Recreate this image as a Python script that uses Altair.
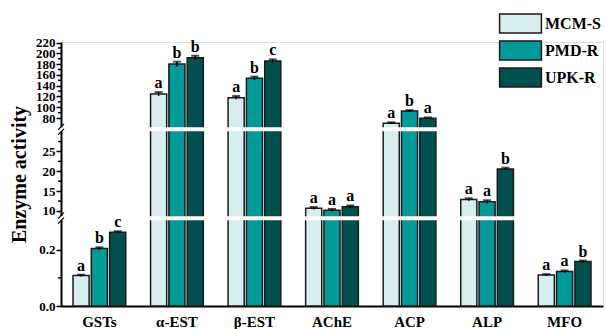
import altair as alt
import pandas as pd

# ---- data -------------------------------------------------------------
enzymes = ["GSTs", "α-EST", "β-EST", "AChE", "ACP", "ALP", "MFO"]
strains = ["MCM-S", "PMD-R", "UPK-R"]
colors = ["#d6eeee", "#009b98", "#00504e"]

mcm_s = [0.108, 124.5, 117.7, 10.7, 70.5, 12.9, 0.110]
pmd_r = [0.204, 180.0, 153.7, 10.2, 93.0, 12.3, 0.122]
upk_r = [0.262, 192.0, 185.7, 11.1, 79.5, 20.6, 0.158]

mcm_s_err = [0.003, 3.5, 3.0, 0.3, 1.5, 0.3, 0.003]
pmd_r_err = [0.004, 4.5, 3.0, 0.3, 1.5, 0.4, 0.004]
upk_r_err = [0.003, 3.5, 3.0, 0.3, 1.5, 0.3, 0.003]

mcm_s_sig = ["a", "a", "a", "a", "a", "a", "a"]
pmd_r_sig = ["b", "b", "b", "a", "b", "a", "a"]
upk_r_sig = ["c", "b", "c", "a", "a", "b", "b"]

major_ticks = [0, 0.2, 10, 15, 20, 25, 80, 100, 120, 140, 160, 180, 200, 220]
minor_ticks = [0.1, 12.5, 17.5, 22.5, 27.5, 90, 110, 130, 150, 170, 190, 210]

# broken y axis: three linear segments joined by narrow gaps
W, H = 542, 264
Y_DOMAIN = [0, 0.304, 8.74, 30.1, 62.4, 221]
Y_RANGE = [H, 178.3, 174.0, 89.2, 85.5, 0]
break_px = [(Y_RANGE[1] + Y_RANGE[2]) / 2, (Y_RANGE[3] + Y_RANGE[4]) / 2]

FONT = "Liberation Serif"

rows = []
for vals, errs, sigs, s in [(mcm_s, mcm_s_err, mcm_s_sig, strains[0]),
                            (pmd_r, pmd_r_err, pmd_r_sig, strains[1]),
                            (upk_r, upk_r_err, upk_r_sig, strains[2])]:
    for e, v, err, sig in zip(enzymes, vals, errs, sigs):
        rows.append({"enzyme": e, "strain": s, "value": v,
                     "lo": v - err, "hi": v + err, "sig": sig})
df = pd.DataFrame(rows)

yscale = alt.Scale(domain=Y_DOMAIN, range=Y_RANGE, nice=False, zero=False)
yaxis = alt.Axis(values=major_ticks,
                 labelExpr="datum.value < 1 ? format(datum.value, '.1f') : format(datum.value, 'd')",
                 labelOverlap=False, labelFlush=False, grid=False,
                 tickSize=5, tickWidth=1.5, tickColor="black",
                 domainWidth=2, domainColor="black",
                 labelFont=FONT, labelFontSize=13, labelFontWeight="bold",
                 labelColor="black", labelPadding=1,
                 title="Enzyme activity", titleFont=FONT, titleFontSize=20,
                 titleFontWeight="bold", titleColor="black",
                 titleAngle=270, titleX=-42, titleY=H / 2,
                 titleAlign="center", titleBaseline="middle")
xscale = alt.Scale(paddingInner=0.32, paddingOuter=0.155)
xaxis = alt.Axis(title=None, labelAngle=0, ticks=False, domainWidth=2,
                 domainColor="black", labelFont=FONT, labelFontSize=15,
                 labelFontWeight="bold", labelColor="black", labelPadding=8)
xenc = alt.X("enzyme:N", sort=enzymes, scale=xscale, axis=xaxis)
xoff = alt.XOffset("strain:N", sort=strains, scale=alt.Scale(paddingInner=0.12))


def yq(field):
    return alt.Y(field, type="quantitative", scale=yscale, axis=yaxis)


base = alt.Chart(df)

bars = base.mark_bar(stroke="#1a1a1a", strokeWidth=1.5).encode(
    x=xenc,
    xOffset=xoff,
    y=yq("value"),
    color=alt.Color("strain:N", sort=strains,
                    scale=alt.Scale(domain=strains, range=colors),
                    legend=alt.Legend(title=None, orient="none",
                                      legendX=449, legendY=-29, padding=0,
                                      symbolType="M-2.2,-1H2.2V1H-2.2Z",
                                      symbolSize=361, symbolStrokeColor="#1a1a1a",
                                      symbolStrokeWidth=1.5, symbolOpacity=1,
                                      labelFont=FONT, labelFontSize=16,
                                      labelFontWeight="bold", labelColor="black",
                                      labelOffset=14, rowPadding=2)),
)

whisk = base.mark_rule(color="black", strokeWidth=1.5).encode(
    x=xenc, xOffset=xoff, y=yq("lo"), y2="hi:Q")

caps = base.mark_tick(color="black", thickness=2, size=8).encode(
    x=xenc, xOffset=xoff, y=yq("hi"))

letters = base.mark_text(font=FONT, fontSize=16, fontWeight="bold", color="black",
                         baseline="alphabetic", dy=-4).encode(
    x=xenc, xOffset=xoff, y=yq("hi"), text="sig:N")

# short unlabeled ticks between the labelled ones
minor = alt.Chart(pd.DataFrame({"v": minor_ticks})).mark_rule(
    color="black", strokeWidth=1.5).encode(
    x=alt.value(-3), x2=alt.value(0), y=yq("v"))

# white bands marking the axis breaks
bands = alt.Chart(pd.DataFrame({"p": break_px})).mark_rule(
    color="white", strokeWidth=4).encode(
    x=alt.value(-4), x2=alt.value(W), y=alt.Y("p:Q", scale=None))

# small slashes where the y axis is broken
slash_rows = []
for p in break_px:
    for d in (-2.5, 2.5):
        slash_rows.append({"ya": p + d + 3, "yb": p + d - 3})
slashes = alt.Chart(pd.DataFrame(slash_rows)).mark_rule(
    color="black", strokeWidth=1.3).encode(
    x=alt.value(-3), x2=alt.value(3),
    y=alt.Y("ya:Q", scale=None), y2="yb:Q")

chart = alt.layer(bars, whisk, caps, bands, slashes, minor, letters).properties(
    width=W, height=H,
    autosize=alt.AutoSizeParams(type="none"),
    padding={"left": 61, "top": 42, "right": 3, "bottom": 23},
).configure_view(strokeWidth=0).configure(background="white")

chart.save("out.html", embed_options={"renderer": "svg", "actions": False})
